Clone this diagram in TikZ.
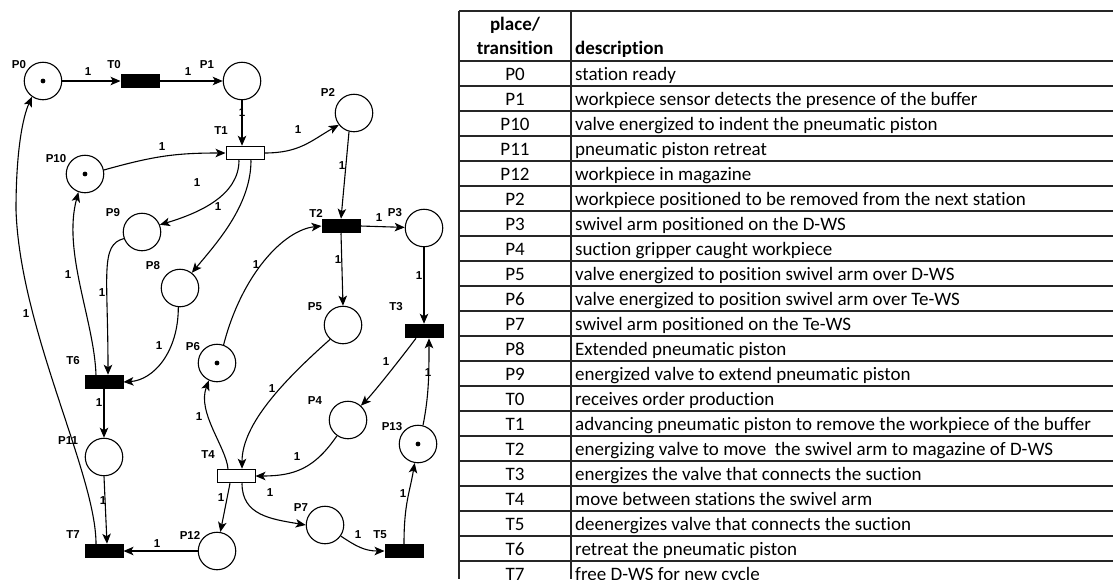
\documentclass[tikz,border=0pt]{standalone}
\usepackage{fontspec}
\setmainfont{Carlito}[Ligatures={NoCommon}]
\newfontfamily\netfont{Liberation Sans}
\usetikzlibrary{arrows.meta}

\tikzset{
  place/.style={circle,draw,line width=1.1pt,minimum size=37.5pt,inner sep=0pt},
  trans/.style={rectangle,draw,fill=black,line width=1pt,minimum width=38pt,minimum height=13.5pt,inner sep=0pt},
  wtrans/.style={trans,fill=white},
  arc/.style={line width=1.1pt,-{Stealth[length=10pt,width=8.5pt,inset=2.5pt]}},
  lbl/.style={font=\netfont\bfseries\fontsize{11.5}{13}\selectfont,inner sep=0pt},
  cell/.style={font=\fontsize{19}{22}\selectfont,inner sep=0pt},
  hcell/.style={font=\bfseries\fontsize{19}{22}\selectfont,inner sep=0pt},
  rule/.style={line width=1.8pt,draw=black!85}
}

\begin{document}
\begin{tikzpicture}[x=1pt,y=-1pt]
\useasboundingbox (0,0) rectangle (1113,579);

% ---------- places and transitions ----------
\node[place]  (P0)  at (43,81)   {};
\node[trans]  (T0)  at (140,81)  {};
\node[place]  (P1)  at (242,81)  {};
\node[wtrans] (T1)  at (245,153) {};
\node[place]  (P2)  at (354,113) {};
\node[place]  (P10) at (85,174)  {};
\node[place]  (P9)  at (142,232) {};
\node[place]  (P8)  at (180,288) {};
\node[trans]  (T2)  at (341,226) {};
\node[place]  (P3)  at (424,228) {};
\node[place]  (P5)  at (343,325) {};
\node[trans]  (T3)  at (424,331) {};
\node[place]  (P6)  at (217,363) {};
\node[trans]  (T6)  at (104,382) {};
\node[place]  (P4)  at (348,420) {};
\node[place]  (P13) at (418,444) {};
\node[wtrans] (T4)  at (236,476) {};
\node[place]  (P11) at (104,457) {};
\node[place]  (P7)  at (325,525) {};
\node[trans]  (T5)  at (404,551) {};
\node[place]  (P12) at (217,551) {};
\node[trans]  (T7)  at (104,551) {};

% tokens
\foreach \p in {P0,P10,P6,P13} \fill (\p) circle (2.4pt);

% ---------- names ----------
\node[lbl] (nP0)  at (19,65)  {P0};
\node[lbl] (nT0)  at (114,65) {T0};
\node[lbl] (nP1)  at (207,65) {P1};
\node[lbl] (nT1)  at (221,131) {T1};
\node[lbl] (nP2)  at (328,92) {P2};
\node[lbl] (nP10) at (56,159) {P10};
\node[lbl] (nP9)  at (113,213) {P9};
\node[lbl] (nP8)  at (153,266) {P8};
\node[lbl] (nT2)  at (316,213) {T2};
\node[lbl] (nP3)  at (395,213) {P3};
\node[lbl] (nP5)  at (315,307) {P5};
\node[lbl] (nT3)  at (396,307) {T3};
\node[lbl] (nT6)  at (73,361) {T6};
\node[lbl] (nP6)  at (193,347) {P6};
\node[lbl] (nP4)  at (315,401) {P4};
\node[lbl] (nP13) at (392,427) {P13};
\node[lbl] (nT4)  at (208,455) {T4};
\node[lbl] (nP11) at (68,441) {P11};
\node[lbl] (nP7)  at (301,508) {P7};
\node[lbl] (nT5)  at (380,535) {T5};
\node[lbl] (nP12) at (190,535) {P12};
\node[lbl] (nT7)  at (73,535) {T7};

% ---------- arcs ----------
\draw[arc] (P0) -- (T0);
\draw[arc] (T0) -- (P1);
\draw[arc] (P1.south) -- (P1.south |- T1.north);
\draw[arc] (T1.east) .. controls +(35,0) and +(-28,16) .. (P2.218);
\draw[arc] (P10.12) .. controls +(50,-14) and +(-50,0) .. (T1.west);
\draw[arc] ([xshift=-6pt]T1.south) .. controls +(0,35) and +(40,-12) .. (P9.22);
\draw[arc] ([xshift=6pt]T1.south) .. controls +(0,45) and +(25,-30) .. (P8.52);
\draw[arc] (P2.255) -- (T2.north);
\draw[arc] (T2.east) -- (P3);
\draw[arc] (T2.south) -- (P5.north);
\draw[arc] (P6.70) .. controls +(18,-70) and +(-38,4) .. (T2.west);
\draw[arc] (P3.south) -- (T3.north);
\draw[arc] ([xshift=-8pt]T3.south) .. controls +(-15,20) and +(12,-12) .. (P4.48);
\draw[arc] (P13.75) .. controls +(6,-30) and +(0,35) .. ([xshift=5pt]T3.south);
\draw[arc] (P5.228) .. controls +(-45,40) and +(0,-45) .. ([xshift=6pt]T4.north);
\draw[arc] (P4.235) .. controls +(-22,32) and +(40,0) .. (T4.east);
\draw[arc] ([xshift=-8pt]T4.north) .. controls +(-2,-22) and +(-12,32) .. (P6.245);
\draw[arc] ([xshift=-6pt]T4.south) -- (P12.80);
\draw[arc] ([xshift=6pt]T4.south) .. controls +(0,32) and +(-35,-6) .. (P7.west);
\draw[arc] (P7.-35) .. controls +(15,10) and +(-20,0) .. (T5.west);
\draw[arc] (T5.north) .. controls +(0,-40) and +(-5,30) .. (P13.260);
\draw[arc] (P12.west) -- (T7.east);
\draw[arc] (T6.south) -- (P11.north);
\draw[arc] (P11.south) -- ([xshift=3pt]T7.north);
\draw[arc] (P9.200) .. controls +(-24,6) and +(0,-100) .. ([xshift=4pt]T6.north);
\draw[arc] (P8.265) .. controls +(0,45) and +(30,-2) .. (T6.east);
\draw[arc] ([xshift=-8pt]T6.north) .. controls +(-2,-55) and +(-16,60) .. (P10.250);
\coordinate (bendL) at (16,210);
\draw[arc] ([xshift=-8pt]T7.north) .. controls +(0,-70) and +(4,120) .. (bendL)
           .. controls +(0,-60) and +(-9,20) .. (P0.235);

% ---------- arc weights ----------
\foreach \n/\x/\y in {w1/88/72, w2/188/72, w3/242/113, w4/298/130, w5/162/147,
    w6/197/183, w7/218/207, w8/342/166, w9/379/218, w10/338/260, w11/256/265,
    w12/419/276, w13/386/362, w14/428/373, w15/272/389, w16/199/417, w17/297/457,
    w18/270/493, w19/221/498, w20/403/494, w21/358/535, w22/157/544, w23/99/403,
    w24/103/501, w25/102/293, w26/159/346, w27/68/275, w28/26/314}
  \node[lbl] (\n) at (\x,\y) {1};

% ---------- table ----------
\foreach \k in {0,...,20} \draw[rule] (459,{61+25*\k}) -- (1113,{61+25*\k});
\draw[rule] (459,11) -- (1113,11);
\draw[rule] (459,11) -- (459,579);
\draw[rule] (571,11) -- (571,579);

\node[hcell,anchor=base] (hA1) at (515,30) {place/};
\node[hcell,anchor=base] (hA2) at (515,54) {transition};
\node[hcell,anchor=base west] (hB) at (575,54) {description};

\foreach \a/\d [count=\i from 0] in {
  P0/station ready,
  P1/workpiece sensor detects the presence of the buffer,
  P10/valve energized to indent the pneumatic piston,
  P11/pneumatic piston retreat,
  P12/workpiece in magazine,
  P2/workpiece positioned to be removed from the next station,
  P3/swivel arm positioned on the D-WS,
  P4/suction gripper caught workpiece,
  P5/valve energized to position swivel arm over D-WS,
  P6/valve energized to position swivel arm over Te-WS,
  P7/swivel arm positioned on the Te-WS,
  P8/Extended pneumatic piston,
  P9/energized valve to extend pneumatic piston,
  T0/receives order production,
  T1/advancing pneumatic piston to remove the workpiece of the buffer,
  T2/energizing valve to move \ the swivel arm to magazine of D-WS,
  T3/energizes the valve that connects the suction,
  T4/move between stations the swivel arm,
  T5/deenergizes valve that connects the suction,
  T6/retreat the pneumatic piston,
  T7/free D-WS for new cycle}
{
  \node[cell,anchor=base] (ra\i) at (515,{80+25*\i}) {\a};
  \node[cell,anchor=base west] (rb\i) at (575,{80+25*\i}) {\d};
}
\end{tikzpicture}
\end{document}
